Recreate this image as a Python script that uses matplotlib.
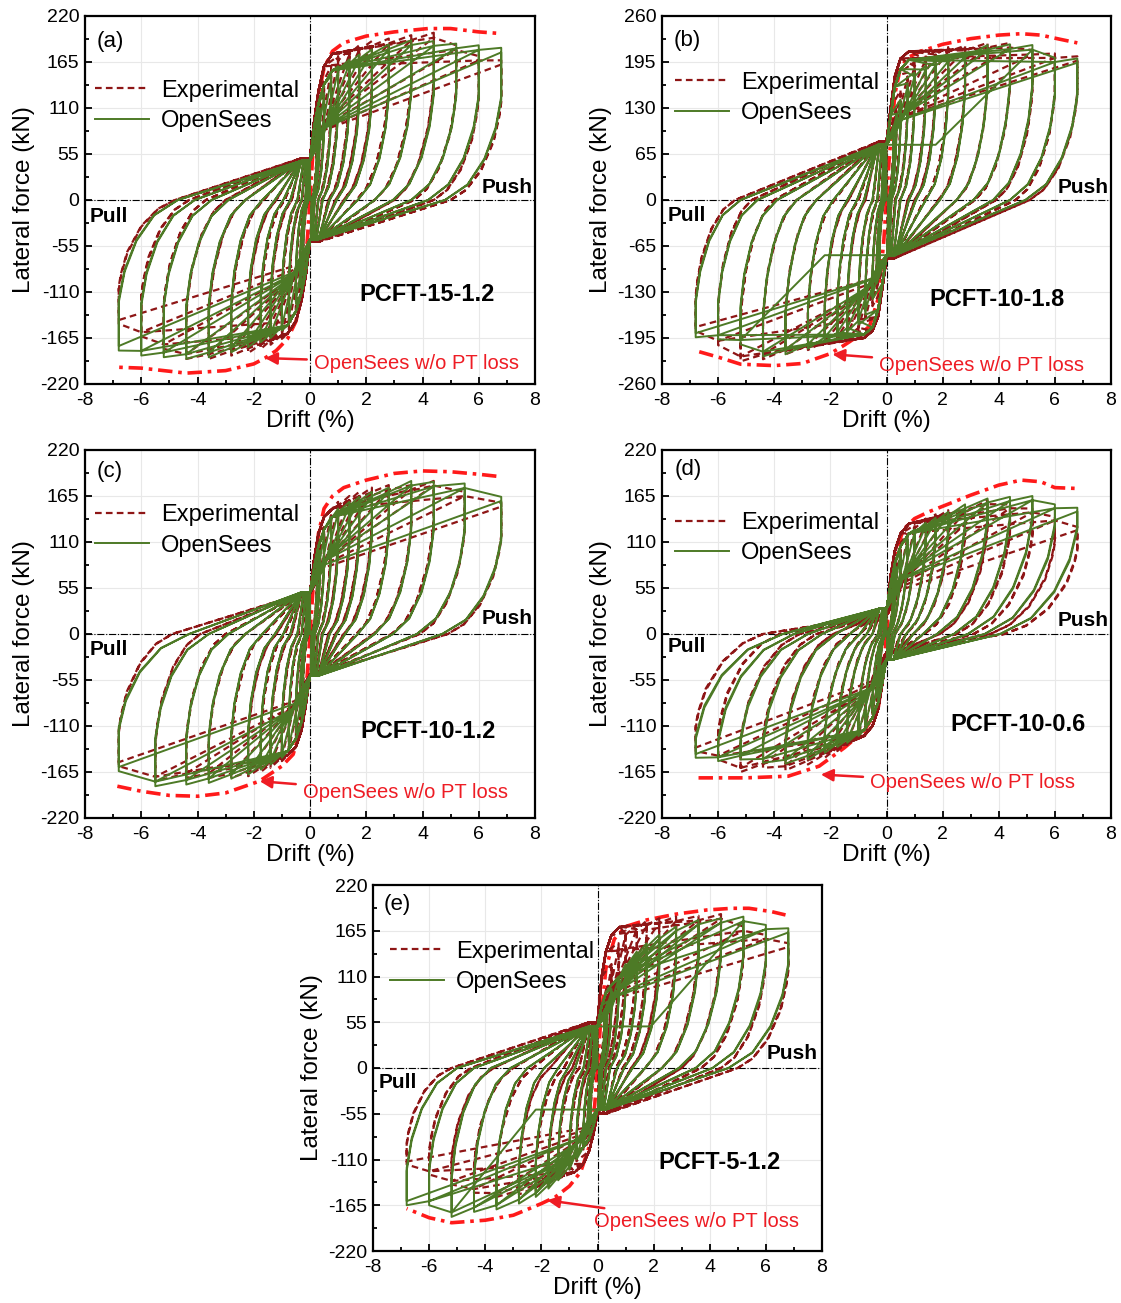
import matplotlib
matplotlib.use('Agg')
import matplotlib.pyplot as plt
from matplotlib.ticker import MultipleLocator

plt.rcParams['font.family'] = ['Liberation Sans', 'DejaVu Sans']
plt.rcParams['axes.unicode_minus'] = False

# ---------------- data ----------------
amps14 = [0.25, 0.35, 0.5, 0.75, 1.0, 1.4, 1.75, 2.2, 2.8, 3.6, 4.4, 5.2, 6.0, 6.8]
amps13 = [0.25, 0.35, 0.5, 0.75, 1.0, 1.4, 1.75, 2.2, 2.8, 3.6, 4.4, 5.5, 6.8]
bb_x = [0.15, 0.3, 0.5, 0.8]

# panel (a) PCFT-15-1.2
a_os_pos = [95, 110, 128, 148, 160, 168, 174, 180, 186, 191, 190, 187, 185, 182]
a_os_neg = [-90, -105, -124, -144, -156, -165, -170, -176, -182, -188, -190, -188, -186, -180]
a_os_x0p = [0.06, 0.1, 0.17, 0.3, 0.45, 0.7, 0.95, 1.25, 1.7, 2.3, 2.95, 3.6, 4.2, 4.8]
a_os_x0n = [-0.06, -0.1, -0.17, -0.3, -0.45, -0.7, -0.95, -1.25, -1.7, -2.3, -2.9, -3.5, -4.1, -4.7]
a_os_fc = 47
a_os_bbp = [88, 115, 138, 155]
a_os_bbn = [-85, -110, -133, -150]
a_os_drop = 0.68
a_ex_pos = [100, 118, 140, 160, 172, 180, 185, 190, 193, 197, 200, 185, 172, 167]
a_ex_neg = [-95, -112, -135, -155, -166, -173, -178, -183, -186, -190, -190, -178, -163, -148]
a_ex_x0p = [0.05, 0.08, 0.15, 0.28, 0.42, 0.65, 0.9, 1.2, 1.65, 2.3, 3.0, 3.7, 4.4, 5.0]
a_ex_x0n = [-0.05, -0.08, -0.15, -0.28, -0.42, -0.65, -0.9, -1.2, -1.65, -2.3, -3.0, -3.7, -4.3, -4.8]
a_ex_fc = 50
a_ex_bbp = [95, 130, 160, 175]
a_ex_bbn = [-90, -120, -145, -160]
a_ex_drop = 0.72
a_env_px = [0, 0.1, 0.3, 0.5, 0.8, 1.2, 2.0, 3.0, 4.2, 5.0, 6.0, 6.8]
a_env_pf = [0, 55, 125, 158, 178, 188, 196, 201, 205, 205, 201, 199]
a_env_nx = [0, -0.1, -0.3, -0.5, -0.8, -1.2, -1.6, -2.0, -3.0, -4.4, -5.2, -6.0, -6.8]
a_env_nf = [0, -50, -115, -145, -166, -180, -189, -196, -204, -207, -204, -201, -200]

# panel (b) PCFT-10-1.8
b_os_pos = [105, 122, 142, 165, 180, 190, 196, 202, 208, 219, 220, 219, 201, 200]
b_os_neg = [-100, -118, -140, -162, -176, -186, -193, -200, -210, -218, -221, -204, -197, -194]
b_os_x0p = [0.06, 0.1, 0.18, 0.33, 0.5, 0.8, 1.05, 1.4, 1.9, 2.5, 3.1, 3.8, 4.4, 4.95]
b_os_x0n = [-0.06, -0.1, -0.18, -0.33, -0.5, -0.8, -1.05, -1.4, -1.9, -2.5, -3.2, -3.9, -4.6, -5.2]
b_os_fc = 78
b_os_bbp = [120, 160, 185, 198]
b_os_bbn = [-118, -155, -180, -190]
b_os_drop = 0.75
b_os_flat = [1.75, -2.2]
b_ex_pos = [110, 130, 155, 180, 195, 205, 212, 216, 218, 222, 222, 212, 207, 203]
b_ex_neg = [-105, -125, -150, -172, -186, -195, -200, -206, -212, -218, -225, -228, -205, -185]
b_ex_x0p = [0.05, 0.09, 0.16, 0.3, 0.48, 0.75, 1.0, 1.35, 1.85, 2.5, 3.15, 3.9, 4.6, 5.1]
b_ex_x0n = [-0.05, -0.09, -0.16, -0.3, -0.48, -0.75, -1.0, -1.35, -1.85, -2.5, -3.2, -4.0, -4.8, -5.4]
b_ex_fc = 82
b_ex_bbp = [130, 175, 200, 210]
b_ex_bbn = [-125, -165, -185, -195]
b_ex_drop = 0.75
b_env_px = [0, 0.1, 0.3, 0.5, 0.8, 1.2, 2, 3, 4, 4.8, 5.5, 6.2, 6.8]
b_env_pf = [0, 60, 150, 188, 202, 210, 220, 228, 233, 235, 233, 227, 222]
b_env_nx = [0, -0.1, -0.3, -0.6, -1, -1.5, -2, -3, -4, -5.2, -6, -6.8]
b_env_nf = [0, -60, -140, -178, -192, -205, -217, -231, -234, -232, -222, -213]

# panel (c) PCFT-10-1.2
c_os_pos = [85, 100, 120, 140, 150, 158, 164, 170, 175, 183, 182, 180, 164]
c_os_neg = [-85, -98, -118, -138, -148, -156, -162, -168, -173, -178, -180, -182, -164]
c_os_x0p = [0.06, 0.1, 0.17, 0.3, 0.45, 0.7, 0.95, 1.25, 1.7, 2.3, 2.95, 3.8, 4.7]
c_os_x0n = [-0.06, -0.1, -0.17, -0.3, -0.45, -0.7, -0.95, -1.25, -1.7, -2.3, -2.9, -3.6, -4.3]
c_os_fc = 50
c_os_bbp = [80, 105, 125, 140]
c_os_bbn = [-80, -105, -125, -140]
c_os_drop = 0.7
c_ex_pos = [90, 108, 128, 148, 158, 165, 170, 175, 178, 178, 183, 170, 157]
c_ex_neg = [-88, -105, -125, -143, -152, -160, -165, -170, -172, -172, -172, -176, -158]
c_ex_x0p = [0.05, 0.09, 0.16, 0.28, 0.42, 0.65, 0.9, 1.2, 1.65, 2.25, 2.9, 3.9, 4.9]
c_ex_x0n = [-0.05, -0.09, -0.16, -0.28, -0.42, -0.65, -0.9, -1.2, -1.65, -2.3, -3.0, -3.9, -4.9]
c_ex_fc = 48
c_ex_bbp = [90, 120, 140, 150]
c_ex_bbn = [-85, -115, -135, -145]
c_ex_drop = 0.75
c_env_px = [0, 0.1, 0.3, 0.5, 0.8, 1.2, 2, 3, 4, 5, 6, 6.8]
c_env_pf = [0, 50, 120, 150, 165, 175, 184, 192, 195, 194, 191, 188]
c_env_nx = [0, -0.1, -0.3, -0.6, -1, -1.8, -3, -4, -5, -6, -6.85]
c_env_nf = [0, -50, -110, -144, -158, -176, -190, -194, -193, -188, -182]

# panel (d) PCFT-10-0.6
d_os_pos = [65, 80, 98, 115, 125, 133, 139, 146, 155, 162, 164, 165, 155, 151]
d_os_neg = [-62, -76, -95, -112, -122, -130, -135, -142, -150, -155, -154, -150, -152, -148]
d_os_x0p = [0.04, 0.06, 0.1, 0.2, 0.3, 0.5, 0.7, 0.95, 1.3, 1.8, 2.4, 2.9, 3.5, 4.05]
d_os_x0n = [-0.04, -0.06, -0.1, -0.2, -0.3, -0.5, -0.7, -0.95, -1.3, -1.8, -2.3, -2.8, -3.3, -3.7]
d_os_fc = 30
d_os_bbp = [60, 85, 105, 120]
d_os_bbn = [-58, -82, -100, -115]
d_os_drop = 0.85
d_ex_pos = [70, 85, 103, 120, 130, 138, 143, 148, 150, 160, 155, 150, 140, 128]
d_ex_neg = [-65, -80, -98, -115, -125, -133, -140, -148, -156, -163, -160, -165, -150, -140]
d_ex_x0p = [0.04, 0.06, 0.1, 0.2, 0.3, 0.5, 0.7, 0.95, 1.35, 1.9, 2.5, 3.1, 3.7, 4.2]
d_ex_x0n = [-0.04, -0.06, -0.1, -0.2, -0.3, -0.5, -0.7, -0.95, -1.35, -1.9, -2.5, -3.1, -3.8, -4.4]
d_ex_fc = 22
d_ex_bbp = [70, 100, 120, 132]
d_ex_bbn = [-60, -90, -110, -122]
d_ex_drop = 0.8
d_env_px = [0, 0.1, 0.3, 0.6, 1, 1.5, 2.1, 3, 4, 4.8, 5.5, 6, 6.8]
d_env_pf = [0, 40, 95, 125, 138, 146, 154, 166, 178, 184, 182, 175, 174]
d_env_nx = [0, -0.1, -0.3, -0.8, -1.5, -2.4, -3.5, -5, -6, -6.8]
d_env_nf = [0, -40, -90, -116, -136, -158, -170, -172, -172, -172]

# panel (e) PCFT-5-1.2
e_os_pos = [70, 80, 95, 110, 125, 140, 150, 160, 170, 178, 180, 182, 172, 168]
e_os_neg = [-68, -80, -95, -110, -122, -135, -145, -155, -163, -170, -173, -179, -165, -165]
e_os_x0p = [0.06, 0.1, 0.17, 0.3, 0.45, 0.7, 0.95, 1.25, 1.7, 2.3, 2.9, 3.5, 4.1, 4.67]
e_os_x0n = [-0.06, -0.1, -0.18, -0.33, -0.5, -0.8, -1.05, -1.4, -1.9, -2.5, -3.1, -3.8, -4.4, -5.0]
e_os_fc = 50
e_os_bbp = [75, 90, 100, 110]
e_os_bbn = [-70, -85, -95, -105]
e_os_drop = 0.75
e_os_flat = [1.9, -2.2]
e_ex_pos = [80, 100, 125, 150, 165, 172, 177, 180, 182, 183, 185, 170, 160, 150]
e_ex_neg = [-70, -82, -98, -112, -122, -132, -140, -148, -152, -155, -150, -140, -128, -116]
e_ex_x0p = [0.04, 0.07, 0.13, 0.25, 0.4, 0.65, 0.9, 1.2, 1.7, 2.3, 3.0, 3.7, 4.4, 5.0]
e_ex_x0n = [-0.04, -0.07, -0.13, -0.25, -0.4, -0.65, -0.9, -1.2, -1.7, -2.3, -3.0, -3.7, -4.5, -5.2]
e_ex_fc = 55
e_ex_bbp = [110, 140, 160, 170]
e_ex_bbn = [-80, -100, -115, -125]
e_ex_drop = 0.8
e_env_px = [0, 0.1, 0.3, 0.6, 1, 1.75, 2.8, 3.9, 4.8, 5.4, 6.2, 6.7]
e_env_pf = [0, 50, 120, 155, 170, 178, 185, 190, 192, 192, 188, 184]
e_env_nx = [0, -0.1, -0.3, -0.6, -1, -1.5, -2, -3, -4, -5.2, -6, -6.8]
e_env_nf = [0, -45, -95, -125, -142, -155, -163, -177, -183, -186, -180, -169]

specimens = ['PCFT-15-1.2', 'PCFT-10-1.8', 'PCFT-10-1.2', 'PCFT-10-0.6', 'PCFT-5-1.2']
panel_tags = ['(a)', '(b)', '(c)', '(d)', '(e)']
ylims = [220, 260, 220, 220, 220]
ysteps = [55, 65, 55, 55, 55]

# ---------------- helpers ----------------
GREEN = '#4d7a26'
DRED = '#8e1616'
RED = '#ff1a1a'
TRED = '#ee1c24'

OS_SHAPE = ([0.1, 0.3, 0.6], [0.7, 0.4, 0.15])
EX_SHAPE = ([0.04, 0.15, 0.4, 0.7], [0.85, 0.6, 0.3, 0.1])


def build_loops(amps, fpos, fneg, x0p, x0n, fc, bbp, bbn, drop, flat=None,
                shape=OS_SHAPE, flat_k=11):
    shape_f, shape_g = shape
    xs, ys = [0.0], [0.0]
    for k, d in enumerate(amps):
        for c in range(2):
            sc = 1.0 if c == 0 else 0.97
            for sgn, fpk, x0, bb, fprev in ((1, fpos[k], x0p[k], bbp, fpos[k - 1] if k else None),
                                            (-1, fneg[k], x0n[k], bbn, fneg[k - 1] if k else None)):
                fp = fpk * sc
                dd = sgn * d
                xs.append(0.0); ys.append(sgn * fc)
                if c == 0:
                    for bx, bf in zip(bb_x, bb):
                        if bx < d * 0.9 and abs(bf) < abs(fp):
                            xs.append(sgn * bx); ys.append(bf)
                    if k and amps[k - 1] > bb_x[-1]:
                        xs.append(sgn * amps[k - 1]); ys.append(0.97 * fprev)
                else:
                    if flat is not None and k == flat_k:
                        xs.append(flat[0] if sgn > 0 else flat[1]); ys.append(sgn * fc)
                    else:
                        xs.append(sgn * min(0.5, 0.5 * d))
                        ys.append(sgn * fc + 0.3 * (fp - sgn * fc))
                xs.append(dd); ys.append(fp)
                fd = drop * fp
                xs.append(dd); ys.append(fd)
                for f, g in zip(shape_f, shape_g):
                    xs.append(dd - (dd - x0) * f); ys.append(fd * g)
                xs.append(x0); ys.append(0.0)
                xs.append(sgn * min(0.3, 0.5 * abs(x0))); ys.append(-sgn * fc)
    return xs, ys


panels = [
    dict(os=(a_os_pos, a_os_neg, a_os_x0p, a_os_x0n, a_os_fc, a_os_bbp, a_os_bbn, a_os_drop, None),
         ex=(a_ex_pos, a_ex_neg, a_ex_x0p, a_ex_x0n, a_ex_fc, a_ex_bbp, a_ex_bbn, a_ex_drop, None),
         env=(a_env_px, a_env_pf, a_env_nx, a_env_nf), amps=amps14),
    dict(os=(b_os_pos, b_os_neg, b_os_x0p, b_os_x0n, b_os_fc, b_os_bbp, b_os_bbn, b_os_drop, b_os_flat),
         ex=(b_ex_pos, b_ex_neg, b_ex_x0p, b_ex_x0n, b_ex_fc, b_ex_bbp, b_ex_bbn, b_ex_drop, None),
         env=(b_env_px, b_env_pf, b_env_nx, b_env_nf), amps=amps14),
    dict(os=(c_os_pos, c_os_neg, c_os_x0p, c_os_x0n, c_os_fc, c_os_bbp, c_os_bbn, c_os_drop, None),
         ex=(c_ex_pos, c_ex_neg, c_ex_x0p, c_ex_x0n, c_ex_fc, c_ex_bbp, c_ex_bbn, c_ex_drop, None),
         env=(c_env_px, c_env_pf, c_env_nx, c_env_nf), amps=amps13),
    dict(os=(d_os_pos, d_os_neg, d_os_x0p, d_os_x0n, d_os_fc, d_os_bbp, d_os_bbn, d_os_drop, None),
         ex=(d_ex_pos, d_ex_neg, d_ex_x0p, d_ex_x0n, d_ex_fc, d_ex_bbp, d_ex_bbn, d_ex_drop, None),
         env=(d_env_px, d_env_pf, d_env_nx, d_env_nf), amps=amps14),
    dict(os=(e_os_pos, e_os_neg, e_os_x0p, e_os_x0n, e_os_fc, e_os_bbp, e_os_bbn, e_os_drop, e_os_flat),
         ex=(e_ex_pos, e_ex_neg, e_ex_x0p, e_ex_x0n, e_ex_fc, e_ex_bbp, e_ex_bbn, e_ex_drop, None),
         env=(e_env_px, e_env_pf, e_env_nx, e_env_nf), amps=amps14),
]

# layout (figure fractions) and text placement (data coords)
W, H = 1121, 1303
boxes_px = [(85, 16, 535, 384), (662, 16, 1111, 384), (85, 450, 535, 818),
            (662, 450, 1111, 818), (373, 885, 822, 1251)]
tag_pos = [(-7.6, 190), (-7.6, 226), (-7.6, 194), (-7.55, 197), (-7.63, 196)]
leg_anchor = [(0.022, 0.827), (0.029, 0.849), (0.022, 0.852), (0.029, 0.831), (0.037, 0.848)]
push_pos = [(7.9, 15), (7.9, 17), (7.9, 19), (7.9, 16), (7.85, 17)]
pull_pos = [(-7.82, -20), (-7.81, -22), (-7.82, -19), (-7.81, -15), (-7.81, -17)]
spec_pos = [(4.15, -113), (3.93, -140), (4.21, -116), (4.69, -108), (4.35, -114)]
arrow_tip = [(-1.6, -189), (-1.93, -218), (-1.79, -176), (-2.34, -168), (-1.79, -159)]
arrow_txt = [(0.13, -195), (-0.27, -234), (-0.26, -190), (-0.59, -178), (-0.12, -184)]

fig = plt.figure(figsize=(W / 100, H / 100), dpi=100)

for i, p in enumerate(panels):
    l, t, r, b = boxes_px[i]
    ax = fig.add_axes([l / W, 1 - b / H, (r - l) / W, (b - t) / H])
    ylim = ylims[i]
    ax.set_xlim(-8, 8)
    ax.set_ylim(-ylim, ylim)
    ax.xaxis.set_major_locator(MultipleLocator(2))
    ax.xaxis.set_minor_locator(MultipleLocator(1))
    ax.yaxis.set_major_locator(MultipleLocator(ysteps[i]))
    ax.yaxis.set_minor_locator(MultipleLocator(ysteps[i] / 2))
    ax.tick_params(which='both', direction='in', labelsize=14, width=1.3)
    ax.tick_params(axis='x', pad=6)
    ax.tick_params(axis='y', pad=4)
    ax.tick_params(which='major', length=5)
    ax.tick_params(which='minor', length=3)
    for s in ax.spines.values():
        s.set_linewidth(1.6)
    ax.grid(True, which='major', color='#e8e8e8', lw=0.8, zorder=0)
    ax.set_axisbelow(True)
    ax.axhline(0, color='k', lw=0.8, ls='-.', zorder=1)
    ax.axvline(0, color='k', lw=0.8, ls='-.', zorder=1)

    px, pf, nx, nf = p['env']
    ax.plot(px, pf, color=RED, lw=2.6, ls=(0, (4, 1.6, 1, 1.6)), zorder=1.5)
    ax.plot(nx, nf, color=RED, lw=2.6, ls=(0, (4, 1.6, 1, 1.6)), zorder=1.5)

    os_ = p['os']
    xo, yo = build_loops(p['amps'], *os_[:8], flat=os_[8], shape=OS_SHAPE)
    ex = p['ex']
    xe, ye = build_loops(p['amps'], *ex[:8], flat=ex[8], shape=EX_SHAPE)
    le, = ax.plot(xe, ye, color=DRED, lw=1.6, ls=(0, (3.0, 1.9)), zorder=2.5, label='Experimental')
    lo, = ax.plot(xo, yo, color=GREEN, lw=1.4, zorder=3, label='OpenSees')

    ax.set_xlabel('Drift (%)', fontsize=17.5, labelpad=0.5)
    ax.set_ylabel('Lateral force (kN)', fontsize=17.5, labelpad=4)

    ax.text(*tag_pos[i], panel_tags[i], fontsize=16, ha='left', va='center', zorder=5)
    ax.legend(handles=[le, lo], loc='upper left', bbox_to_anchor=leg_anchor[i], frameon=False,
              fontsize=17, handlelength=2.3, handletextpad=0.5, labelspacing=0.35,
              borderpad=0, borderaxespad=0)
    ax.text(*push_pos[i], 'Push', fontsize=15, fontweight='bold', ha='right', va='center', zorder=5)
    ax.text(*pull_pos[i], 'Pull', fontsize=15, fontweight='bold', ha='left', va='center', zorder=5)
    ax.text(*spec_pos[i], specimens[i], fontsize=17, fontweight='bold', ha='center', va='center', zorder=5)
    ax.annotate('OpenSees w/o PT loss', xy=arrow_tip[i], xytext=arrow_txt[i],
                fontsize=14.5, color=TRED, ha='left', va='center', zorder=6,
                arrowprops=dict(arrowstyle='-|>', color=TRED, lw=1.8, mutation_scale=18,
                                shrinkA=3, shrinkB=0))

fig.savefig('out.png', dpi=100)
